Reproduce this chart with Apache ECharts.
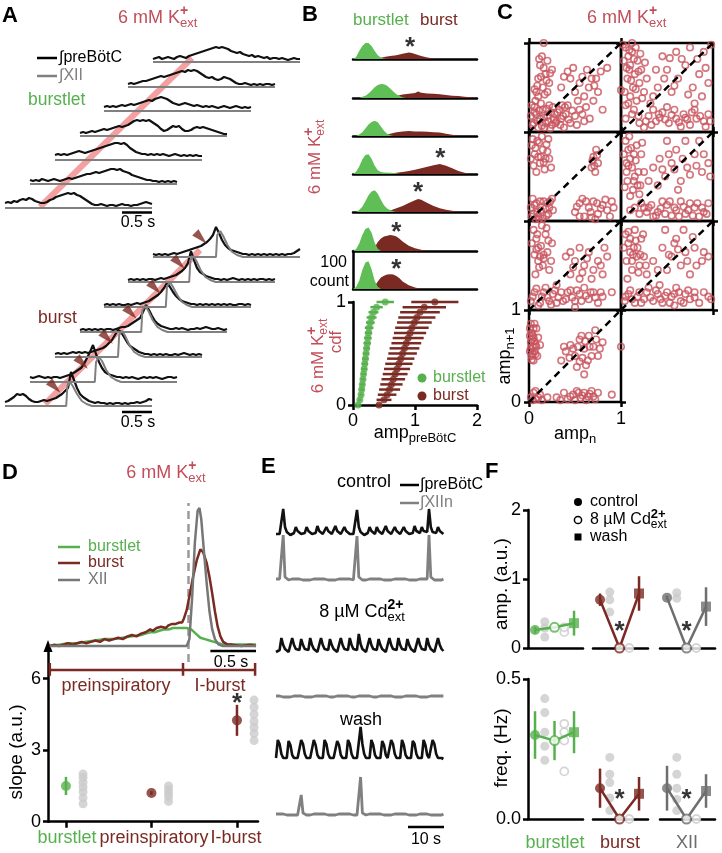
<!DOCTYPE html>
<html><head><meta charset="utf-8">
<script src="https://cdn.jsdelivr.net/npm/echarts@6/dist/echarts.min.js"></script>
<style>html,body{margin:0;padding:0;background:#fff}#c{width:722px;height:853px}</style>
</head><body><div id="c"></div>
<script>
// ================= DATA =================
// ---- Panel A: example traces (a.u., sampled every 0.05 s), bottom -> top
const A_DT = 0.05;
const burstletTraces = [
 [5,6,5,7,6,8,9,8,10,9,7,6,5,5,6,8,9,11,12,13,14,15,14,15,13,12,10,8,6,4,3,3,4,3,2,3,3,2,3,4,3,3,2,3,3,4,5,6,5,4],
 [4,3,4,3,5,4,3,4,5,4,3,4,5,6,5,6,7,8,9,10,10,11,12,11,12,13,14,15,15,14,15,13,12,11,9,8,7,6,5,4,4,3,3,2,3,2,3,2,3,2],
 [5,6,5,6,5,6,7,8,9,8,7,8,9,10,11,12,13,14,15,16,17,17,16,17,15,12,10,8,7,6,6,5,6,5,6,5,6,5,4,5,6,5,4,5,4,5,4,5,4,4],
 [3,4,3,4,5,4,5,6,7,6,7,8,9,10,9,10,11,13,15,16,15,16,15,16,14,12,10,7,5,6,8,10,9,10,7,5,5,6,8,9,8,9,8,7,6,5,4,3,2,2],
 [4,5,4,5,4,5,6,5,6,7,6,7,8,9,10,11,10,12,13,14,13,12,10,8,7,6,7,8,7,6,5,6,5,4,5,4,5,4,3,4,5,4,3,4,5,4,3,4,3,4],
 [3,4,3,4,5,6,6,7,8,9,10,11,10,11,12,13,14,15,16,15,17,16,17,16,14,12,10,9,10,8,7,8,10,9,8,6,4,3,3,4,3,2,3,2,3,2,3,3,2,3],
 [3,4,5,3,4,5,4,3,5,6,5,4,6,7,8,9,10,11,12,13,14,15,14,15,14,13,11,10,9,10,8,7,6,7,5,6,5,4,5,3,4,4,3,4,3,2,3,4,3,3]
];
const burstletXII = [[0,0],[2.45,0]];
const burstTraces = [
 [4,5,7,9,12,11,12,10,7,5,4,4,5,6,5,6,7,8,10,12,15,18,34,26,18,12,9,7,5,4,3,4,3,3,2,3,2,3,3,2,3,2,3,3,4,3,4,5,7,6],
 [5,4,5,6,5,4,5,4,5,5,4,5,6,7,8,10,12,14,18,24,30,37,28,20,14,10,8,7,6,5,5,4,5,4,5,4,3,4,5,4,5,4,5,4,3,4,5,5,4,5],
 [3,4,3,4,3,4,5,4,5,4,5,4,5,6,7,8,9,11,14,17,22,27,25,20,15,11,9,7,5,4,3,3,2,3,2,3,2,3,2,2,3,2,3,4,3,2,3,2,3,2],
 [2,3,2,3,2,3,2,3,2,3,3,2,3,4,5,5,6,8,10,12,14,20,27,22,16,11,8,6,5,4,3,3,4,3,4,3,2,3,3,4,3,4,5,4,3,3,4,3,2,3],
 [2,3,2,3,2,3,2,2,3,2,3,4,3,4,5,6,8,10,12,15,19,24,20,15,11,8,6,5,4,3,3,2,3,2,3,2,3,2,3,2,3,2,3,2,2,3,3,2,3,2],
 [2,3,2,3,2,3,2,3,3,2,3,4,3,4,5,6,7,9,11,14,19,31,22,14,10,8,6,5,4,3,3,2,3,2,3,4,3,2,3,2,3,2,3,2,3,3,2,3,2,3],
 [3,2,3,2,3,2,3,4,3,4,5,6,7,8,9,10,11,13,15,18,22,30,24,17,12,9,7,6,5,4,3,3,2,3,2,3,2,3,2,3,2,3,2,3,2,3,3,4,6,8]
];
const burstXII = [
 [[0,0],[1.02,0],[1.04,20],[1.08,24],[1.13,20],[1.2,12],[1.28,5],[1.36,2],[1.45,0],[2.45,0]],
 [[0,0],[1.08,0],[1.1,20],[1.15,25],[1.2,21],[1.27,12],[1.35,5],[1.43,2],[1.52,0],[2.45,0]],
 [[0,0],[1.05,0],[1.07,22],[1.12,26],[1.17,21],[1.24,12],[1.32,5],[1.4,2],[1.5,0],[2.45,0]],
 [[0,0],[1.02,0],[1.04,22],[1.09,26],[1.14,21],[1.21,12],[1.29,5],[1.37,2],[1.46,0],[2.45,0]],
 [[0,0],[1.03,0],[1.05,21],[1.1,25],[1.15,20],[1.22,12],[1.3,5],[1.38,2],[1.47,0],[2.45,0]],
 [[0,0],[1.02,0],[1.04,22],[1.09,26],[1.14,21],[1.21,12],[1.29,5],[1.37,2],[1.46,0],[2.45,0]],
 [[0,0],[1.05,0],[1.07,22],[1.12,26],[1.17,21],[1.24,12],[1.32,5],[1.4,2],[1.5,0],[2.45,0]]
];
const burstArrowT = [0.83,0.87,0.87,0.85,0.85,0.85,0.8];
const burstArrowAmp = [19,19,19,19,19,19,19];

// ---- Panel B: histograms (amp, count), rows top -> bottom
const histGreenX = [
 [0,0.05,0.1,0.15,0.2,0.25,0.3,0.35,0.4,0.45,0.5,0.55],
 [0.1,0.15,0.2,0.25,0.3,0.35,0.4,0.45,0.5,0.55,0.6,0.65,0.7,0.75,0.8,0.85],
 [0.05,0.1,0.15,0.2,0.25,0.3,0.35,0.4,0.45,0.5,0.55,0.6,0.65],
 [0,0.05,0.1,0.15,0.2,0.25,0.3,0.35,0.4,0.45,0.5,0.6,0.7,0.75],
 [0.05,0.1,0.15,0.2,0.25,0.3,0.35,0.4,0.45,0.5,0.55,0.6,0.65,0.7],
 [0,0.05,0.1,0.15,0.2,0.25,0.3,0.35,0.4,0.45],
 [0,0.05,0.1,0.15,0.2,0.25,0.3,0.35,0.4,0.45]
];
const histGreenN = [
 [0,5,21,34,42,42,34,21,10,4,1,0],
 [0,3,6,12,20,28,34,37,36,32,25,17,10,5,2,0],
 [0,4,10,20,30,37,40,36,25,14,6,2,0],
 [0,6,20,38,50,52,40,22,10,5,4,3,2,0],
 [0,5,14,28,44,54,57,48,32,18,9,5,2,0],
 [0,5,20,42,58,62,48,22,6,0],
 [0,5,22,50,70,73,52,22,6,0]
];
const histBrownX = [
 [0.4,0.45,0.5,0.6,0.7,0.8,0.9,0.95,1.0,1.1,1.2,1.3,1.4],
 [0.6,0.7,0.8,0.9,1.0,1.05,1.1,1.2,1.3,1.4,1.5,1.6,1.7,1.8,1.9,2.0],
 [0.5,0.6,0.7,0.8,0.9,1.0,1.1,1.2,1.3,1.4,1.5,1.6,1.7],
 [0.6,0.7,0.8,0.9,1.0,1.1,1.2,1.3,1.4,1.5,1.6,1.7,1.8,1.9],
 [0.5,0.6,0.7,0.8,0.9,1.0,1.05,1.1,1.2,1.3,1.4,1.5,1.6,1.7],
 [0.3,0.35,0.4,0.45,0.5,0.55,0.6,0.65,0.7,0.75,0.8,0.9,1.0,1.1,1.2],
 [0.3,0.35,0.4,0.45,0.5,0.55,0.6,0.65,0.7,0.75,0.8,0.9,1.0,1.1]
];
const histBrownN = [
 [0,3,5,8,10,14,17,16,13,8,4,1,0],
 [0,5,9,11,13,17,14,12,11,10,8,6,5,3,2,0],
 [0,6,10,12,13,12,12,11,10,9,6,3,0],
 [0,3,5,8,11,15,19,23,26,22,15,8,3,0],
 [0,4,10,16,24,31,34,32,24,16,10,6,3,0],
 [0,10,24,33,38,40,42,41,38,32,25,14,7,3,0],
 [0,8,20,30,35,38,39,38,34,28,20,10,4,0]
];
const histStar = [[0.92,42],null,null,[1.41,52],[1.05,63],[0.7,60],[0.7,63]];
// ---- Panel B: cdf
const cdfQ = [0,0.05,0.1,0.15,0.2,0.25,0.3,0.35,0.4,0.45,0.5,0.55,0.6,0.65,0.7,0.75,0.8,0.85,0.9,0.95,1];
const cdfGreenX = [0.08,0.11,0.13,0.14,0.15,0.16,0.17,0.18,0.19,0.2,0.21,0.22,0.23,0.24,0.25,0.26,0.28,0.3,0.33,0.38,0.52];
const cdfGreenErr = [0.02,0.03,0.03,0.04,0.04,0.04,0.04,0.05,0.05,0.05,0.05,0.05,0.06,0.06,0.06,0.07,0.07,0.08,0.08,0.1,0.14];
const cdfBrownX = [0.42,0.5,0.55,0.59,0.62,0.65,0.68,0.71,0.74,0.77,0.8,0.83,0.86,0.89,0.92,0.95,0.99,1.03,1.08,1.15,1.32];
const cdfBrownErr = [0.05,0.12,0.15,0.17,0.18,0.19,0.2,0.21,0.22,0.22,0.23,0.24,0.24,0.25,0.26,0.27,0.28,0.3,0.32,0.35,0.38];

// ---- Panel C: return maps amp_n vs amp_n+1, 7 preparations (row-major, row 4 has one)
const cPoints = [
 [[0.05,0.1],[0.08,0.2],[0.1,0.05],[0.12,0.15],[0.15,0.25],[0.18,0.1],[0.2,0.18],[0.22,0.3],[0.25,0.08],[0.28,0.2],[0.3,0.12],[0.33,0.25],[0.35,0.15],[0.38,0.05],[0.4,0.2],[0.42,0.3],[0.45,0.1],[0.03,0.3],[0.07,0.35],[0.13,0.32],[0.17,0.05],[0.24,0.22],[0.5,0.18],[0.55,0.25],[0.6,0.12],[0.08,0.45],[0.1,0.6],[0.12,0.75],[0.15,0.5],[0.18,0.65],[0.2,0.8],[0.22,0.55],[0.14,0.85],[0.1,0.4],[0.2,0.45],[0.25,0.7],[0.35,0.5],[0.45,0.6],[0.5,0.45],[0.55,0.55],[0.6,0.4],[0.65,0.5],[0.7,0.35],[0.75,0.45],[0.8,0.25],[0.68,0.6],[0.42,0.68],[0.73,0.6],[0.16,1.0],[1.0,0.47],[0.06,0.22],[0.27,0.14],[0.36,0.3]],
 [[0.05,0.95],[0.08,0.85],[0.1,0.75],[0.12,0.9],[0.15,0.65],[0.18,0.8],[0.2,0.55],[0.22,0.7],[0.25,0.45],[0.07,0.6],[0.13,0.5],[0.28,0.6],[0.1,0.4],[0.17,0.35],[0.05,0.3],[0.05,0.15],[0.12,0.2],[0.2,0.1],[0.3,0.18],[0.38,0.12],[0.45,0.22],[0.52,0.1],[0.6,0.15],[0.68,0.2],[0.75,0.08],[0.82,0.15],[0.9,0.12],[0.95,0.2],[0.35,0.25],[0.58,0.25],[0.8,0.25],[0.25,0.05],[0.65,0.06],[0.4,0.5],[0.5,0.7],[0.55,0.45],[0.62,0.6],[0.7,0.75],[0.78,0.5],[0.85,0.65],[0.9,0.9],[0.45,0.85],[0.6,0.9],[0.75,0.95],[0.95,0.55],[0.35,0.4],[0.88,0.4],[0.98,0.98],[0.09,0.7],[0.16,0.95],[0.42,0.16],[0.72,0.14]],
 [[0.03,0.85],[0.06,0.75],[0.09,0.9],[0.12,0.65],[0.15,0.8],[0.18,0.7],[0.21,0.92],[0.24,0.6],[0.08,0.55],[0.14,0.95],[0.2,0.78],[0.1,0.72],[0.02,0.15],[0.05,0.08],[0.08,0.2],[0.1,0.05],[0.13,0.12],[0.16,0.22],[0.19,0.06],[0.22,0.15],[0.25,0.25],[0.04,0.25],[0.11,0.02],[0.2,0.2],[0.5,0.1],[0.55,0.2],[0.6,0.05],[0.65,0.15],[0.7,0.22],[0.75,0.08],[0.8,0.18],[0.85,0.12],[0.9,0.22],[0.58,0.25],[0.72,0.02],[0.88,0.05],[0.68,0.6],[0.7,0.72],[0.73,0.8],[0.75,0.65],[0.72,0.55]],
 [[0.05,0.9],[0.08,0.8],[0.1,0.7],[0.12,0.6],[0.15,0.5],[0.18,0.4],[0.2,0.3],[0.07,0.45],[0.13,0.35],[0.22,0.75],[0.25,0.55],[0.09,0.95],[0.17,0.85],[0.1,0.12],[0.2,0.08],[0.3,0.15],[0.4,0.1],[0.5,0.18],[0.6,0.12],[0.7,0.08],[0.8,0.15],[0.9,0.1],[0.95,0.2],[0.35,0.05],[0.55,0.06],[0.75,0.2],[0.45,0.22],[0.65,0.22],[0.85,0.05],[0.35,0.6],[0.42,0.7],[0.48,0.5],[0.55,0.65],[0.6,0.8],[0.65,0.45],[0.72,0.6],[0.8,0.75],[0.88,0.55],[0.95,0.65],[0.5,0.9],[0.7,0.9],[0.4,0.4],[0.62,0.35],[0.85,0.9],[0.06,0.65],[0.14,0.75],[0.25,0.15]],
 [[0.05,0.9],[0.08,0.8],[0.1,0.7],[0.12,0.6],[0.15,0.5],[0.18,0.85],[0.2,0.65],[0.22,0.45],[0.25,0.75],[0.07,0.4],[0.14,0.95],[0.1,0.55],[0.02,0.1],[0.06,0.2],[0.1,0.05],[0.14,0.15],[0.18,0.25],[0.22,0.1],[0.26,0.18],[0.3,0.08],[0.35,0.2],[0.4,0.12],[0.45,0.22],[0.5,0.1],[0.55,0.18],[0.6,0.25],[0.65,0.12],[0.7,0.2],[0.75,0.08],[0.8,0.15],[0.3,0.28],[0.5,0.03],[0.45,0.4],[0.5,0.55],[0.55,0.35],[0.6,0.5],[0.65,0.65],[0.7,0.45],[0.75,0.55],[0.8,0.4],[0.85,0.6],[0.55,0.7],[0.4,0.6],[0.16,0.62],[0.9,0.2]],
 [[0.05,0.85],[0.08,0.75],[0.1,0.65],[0.12,0.55],[0.15,0.9],[0.18,0.7],[0.2,0.5],[0.22,0.8],[0.25,0.6],[0.28,0.4],[0.07,0.35],[0.12,0.45],[0.17,0.6],[0.05,0.15],[0.1,0.22],[0.15,0.08],[0.2,0.2],[0.25,0.12],[0.3,0.25],[0.35,0.1],[0.4,0.18],[0.45,0.08],[0.5,0.2],[0.55,0.15],[0.6,0.25],[0.65,0.1],[0.7,0.18],[0.75,0.12],[0.85,0.08],[0.95,0.15],[0.42,0.28],[0.58,0.05],[0.35,0.55],[0.45,0.7],[0.5,0.45],[0.55,0.6],[0.6,0.8],[0.65,0.5],[0.7,0.65],[0.75,0.4],[0.8,0.7],[0.88,0.55],[0.95,0.6],[0.48,0.9],[0.68,0.9],[0.14,0.7],[0.8,0.2]],
 [[0.01,0.8],[0.03,0.75],[0.05,0.7],[0.02,0.65],[0.04,0.6],[0.06,0.55],[0.03,0.5],[0.05,0.45],[0.08,0.8],[0.07,0.62],[0.02,0.85],[0.1,0.7],[0.04,0.52],[0.09,0.5],[0.35,0.45],[0.4,0.55],[0.45,0.62],[0.5,0.5],[0.55,0.68],[0.6,0.58],[0.65,0.72],[0.7,0.6],[0.75,0.5],[0.8,0.65],[0.62,0.4],[0.52,0.38],[0.72,0.78],[0.58,0.48],[0.02,0.05],[0.05,0.1],[0.08,0.03],[0.12,0.08],[0.3,0.05],[0.38,0.1],[0.42,0.03],[0.48,0.08],[0.52,0.12],[0.56,0.04],[0.6,0.1],[0.64,0.06],[0.68,0.12],[0.72,0.03],[0.9,0.08],[1.0,0.6]]
];
const cPointsMore = [
 [[0.02,0.18],[0.04,0.08],[0.06,0.28],[0.09,0.12],[0.11,0.24],[0.14,0.07],[0.16,0.16],[0.19,0.26],[0.21,0.12],[0.23,0.04],[0.26,0.28],[0.29,0.1],[0.31,0.22],[0.34,0.08],[0.37,0.18],[0.39,0.28],[0.43,0.14],[0.47,0.24],[0.52,0.08],[0.58,0.2],[0.62,0.28],[0.66,0.15],[0.09,0.52],[0.13,0.62],[0.16,0.72],[0.19,0.58],[0.11,0.82],[0.23,0.66],[0.06,0.48],[0.17,0.42],[0.38,0.62],[0.48,0.72],[0.58,0.62],[0.63,0.7],[0.78,0.68],[0.71,0.52],[0.53,0.35],[0.85,0.72]],
 [[0.03,0.8],[0.06,0.72],[0.09,0.92],[0.11,0.58],[0.14,0.82],[0.16,0.48],[0.19,0.68],[0.21,0.88],[0.23,0.38],[0.26,0.78],[0.04,0.45],[0.08,0.32],[0.14,0.25],[0.19,0.18],[0.27,0.12],[0.33,0.08],[0.41,0.2],[0.48,0.14],[0.55,0.19],[0.63,0.11],[0.7,0.16],[0.77,0.22],[0.86,0.18],[0.92,0.06],[0.97,0.12],[0.5,0.28],[0.32,0.32],[0.47,0.6],[0.58,0.52],[0.66,0.82],[0.73,0.42],[0.83,0.82],[0.92,0.72],[0.53,0.83],[0.8,0.32],[0.38,0.7],[0.02,0.98],[0.12,1.0]],
 [[0.02,0.7],[0.05,0.62],[0.07,0.82],[0.11,0.88],[0.13,0.72],[0.16,0.66],[0.19,0.86],[0.22,0.7],[0.04,0.92],[0.17,0.58],[0.03,0.05],[0.06,0.18],[0.09,0.1],[0.12,0.22],[0.15,0.03],[0.18,0.14],[0.21,0.08],[0.23,0.22],[0.07,0.02],[0.26,0.12],[0.52,0.16],[0.62,0.22],[0.68,0.04],[0.78,0.14],[0.83,0.24],[0.92,0.15],[0.55,0.05],[0.67,0.1],[0.74,0.2],[0.69,0.68],[0.74,0.74],[0.71,0.62]],
 [[0.03,0.75],[0.06,0.55],[0.08,0.62],[0.11,0.82],[0.14,0.45],[0.16,0.68],[0.19,0.55],[0.21,0.4],[0.23,0.88],[0.04,0.38],[0.1,0.28],[0.15,0.15],[0.22,0.2],[0.28,0.1],[0.33,0.18],[0.38,0.06],[0.43,0.14],[0.48,0.08],[0.53,0.22],[0.58,0.15],[0.63,0.05],[0.68,0.16],[0.73,0.12],[0.78,0.06],[0.83,0.2],[0.88,0.15],[0.93,0.08],[0.3,0.45],[0.45,0.58],[0.52,0.75],[0.58,0.58],[0.67,0.7],[0.75,0.52],[0.82,0.62],[0.9,0.75],[0.97,0.5]],
 [[0.03,0.75],[0.06,0.62],[0.09,0.85],[0.11,0.48],[0.13,0.72],[0.16,0.58],[0.19,0.92],[0.21,0.78],[0.24,0.55],[0.08,0.68],[0.04,0.15],[0.08,0.24],[0.12,0.08],[0.16,0.2],[0.2,0.14],[0.24,0.06],[0.28,0.22],[0.32,0.14],[0.37,0.1],[0.42,0.2],[0.47,0.14],[0.52,0.22],[0.57,0.1],[0.62,0.16],[0.67,0.2],[0.72,0.14],[0.78,0.2],[0.48,0.48],[0.58,0.42],[0.63,0.58],[0.68,0.35],[0.78,0.5],[0.82,0.7],[0.45,0.65]],
 [[0.03,0.7],[0.06,0.55],[0.08,0.88],[0.1,0.8],[0.13,0.62],[0.16,0.78],[0.19,0.42],[0.21,0.62],[0.24,0.85],[0.27,0.5],[0.04,0.1],[0.08,0.18],[0.12,0.12],[0.18,0.15],[0.22,0.08],[0.28,0.2],[0.32,0.14],[0.38,0.22],[0.43,0.12],[0.48,0.16],[0.53,0.08],[0.58,0.18],[0.63,0.2],[0.68,0.08],[0.73,0.22],[0.8,0.14],[0.9,0.2],[0.98,0.12],[0.4,0.45],[0.52,0.62],[0.62,0.68],[0.72,0.55],[0.82,0.5],[0.9,0.65],[0.58,0.75],[0.78,0.82]],
 [[0.01,0.72],[0.03,0.68],[0.02,0.58],[0.05,0.8],[0.06,0.66],[0.04,0.72],[0.07,0.52],[0.03,0.46],[0.08,0.6],[0.01,0.55],[0.06,0.85],[0.12,0.62],[0.38,0.6],[0.44,0.48],[0.48,0.58],[0.53,0.6],[0.57,0.72],[0.61,0.66],[0.66,0.6],[0.68,0.5],[0.73,0.68],[0.77,0.58],[0.64,0.45],[0.55,0.44],[0.6,0.3],[0.04,0.02],[0.07,0.12],[0.1,0.05],[0.14,0.02],[0.34,0.02],[0.45,0.06],[0.5,0.02],[0.54,0.1],[0.58,0.07],[0.62,0.02],[0.66,0.09],[0.7,0.06],[0.75,0.1],[0.2,0.05]]
];

// ---- Panel D: averaged traces (normalised), time in s
const dBurstlet = [[0,0.0],[0.1,0.01],[0.2,0.02],[0.3,0.02],[0.4,0.03],[0.5,0.04],[0.6,0.05],[0.7,0.05],[0.8,0.06],[0.9,0.07],[1.0,0.08],[1.05,0.09],[1.1,0.1],[1.15,0.1],[1.2,0.11],[1.25,0.12],[1.3,0.12],[1.35,0.13],[1.4,0.13],[1.45,0.13],[1.5,0.13],[1.55,0.12],[1.6,0.09],[1.65,0.06],[1.7,0.05],[1.75,0.04],[1.8,0.03],[1.85,0.02],[1.9,0.01],[2.0,0.01],[2.1,0.01],[2.2,0.01],[2.26,0.01]];
const dBurst = [[0,0.0],[0.05,0.01],[0.1,0.0],[0.15,0.01],[0.2,0.02],[0.25,0.01],[0.3,0.02],[0.35,0.03],[0.4,0.02],[0.45,0.03],[0.5,0.04],[0.55,0.03],[0.6,0.05],[0.65,0.04],[0.7,0.05],[0.75,0.06],[0.8,0.05],[0.85,0.07],[0.9,0.08],[0.95,0.07],[1.0,0.09],[1.05,0.1],[1.1,0.12],[1.13,0.11],[1.17,0.13],[1.22,0.14],[1.27,0.13],[1.3,0.15],[1.34,0.16],[1.38,0.16],[1.42,0.17],[1.45,0.17],[1.47,0.2],[1.5,0.26],[1.53,0.36],[1.57,0.5],[1.61,0.62],[1.65,0.7],[1.68,0.68],[1.72,0.6],[1.75,0.5],[1.78,0.38],[1.81,0.25],[1.84,0.14],[1.87,0.07],[1.9,0.03],[1.95,0.01],[2.0,0.01],[2.1,0.0],[2.2,0.01],[2.26,0.0]];
const dXII = [[0,0],[1.5,0],[1.53,0.05],[1.56,0.35],[1.59,0.75],[1.62,0.98],[1.64,1.0],[1.66,0.92],[1.69,0.68],[1.72,0.45],[1.75,0.25],[1.78,0.12],[1.81,0.05],[1.85,0.01],[1.9,0],[2.26,0]];
const dOnsetT = 1.52;
const dPhaseBounds = [0, 1.46, 2.25];
// ---- Panel D: slopes
const slopeCats = ['burstlet','preinspiratory','I-burst'];
const slopeMean = [1.5,1.2,4.25];
const slopeErr = [0.38,0.08,0.65];
const slopeInd = [[0.75,1.0,1.25,1.45,1.65,1.85,2.0],[0.85,1.05,1.2,1.35,1.5],[3.4,3.7,3.95,4.2,4.5,4.8,5.1]];

// ---- Panel E: long recordings (a.u.), sampled every 0.5 s
const E_DT = 0.5;
const eControlPre = [1,0,1,2,26,8,3,1,0,1,2,8,4,2,1,0,2,8,4,2,1,0,2,9,4,2,1,2,8,4,2,1,2,9,4,2,1,2,8,4,2,1,0,1,3,25,8,3,1,0,1,2,8,4,2,1,8,4,2,1,2,9,4,2,1,2,8,4,2,1,2,8,4,2,1,0,2,9,4,2,2,8,4,2,3,26,8,3,1,2,8,4,2,1];
const eControlXII = [1,0,1,0,45,3,1,0,1,1,0,1,0,1,1,0,1,0,1,0,1,1,0,1,0,1,0,1,1,0,1,0,1,0,1,1,0,1,0,1,0,1,1,0,1,44,3,1,0,1,0,1,1,0,1,0,1,0,1,1,0,1,0,1,0,1,1,0,1,0,1,0,1,1,0,1,0,1,0,1,1,0,1,0,1,45,3,1,0,1,0,1,0,1];
const eCdPre = [1,0,3,15,8,4,2,1,3,15,8,4,2,3,14,8,4,2,3,15,8,4,2,1,3,15,8,4,2,3,14,8,4,2,1,3,15,8,4,2,3,15,8,4,2,3,19,9,4,2,1,3,15,8,4,2,3,14,8,4,2,1,3,15,8,4,2,3,15,8,4,2,3,14,8,4,2,1,3,15,8,4,2,3,15,8,4,2,1,3,15,8,4,2];
const eCdXII = [1,0,1,1,0,1,0,1,0,1,1,0,1,0,1,1,0,1,0,1,0,1,1,0,1,0,1,0,1,1,0,1,0,1,1,0,1,0,1,0,1,1,0,1,0,1,1,0,1,0,1,0,1,1,0,1,0,1,1,0,1,0,1,0,1,1,0,1,0,1,0,1,1,0,1,0,1,0,1,1,0,1,0,1,0,1,1,0,1,0,1,0,1,1];
const eWashPre = [2,20,16,6,2,1,2,19,15,5,2,1,2,1,20,16,6,2,1,2,1,20,15,5,2,1,2,20,16,6,2,1,2,1,19,15,5,2,1,2,20,16,6,2,1,2,3,33,16,6,2,1,2,20,15,5,2,1,2,19,15,5,2,2,20,16,6,2,1,2,20,15,5,2,1,2,19,16,6,2,1,2,20,15,5,2,2,20,16,6,2,1,2,1];
const eWashXII = [1,0,1,0,1,1,0,1,0,1,0,1,0,1,20,2,1,0,1,0,1,1,0,1,0,1,0,1,1,0,1,0,1,0,1,1,0,1,0,1,0,1,1,0,1,0,1,38,2,1,0,1,1,0,1,0,1,0,1,1,0,1,0,1,0,1,1,0,1,0,1,0,1,1,0,1,0,1,0,1,1,0,1,0,1,1,0,1,0,1,0,1,0,1];

// ---- Panel F: group stats [control, Cd, wash]
const fGroups = ['burstlet','burst','XII'];
const fAmpMean = [[0.26,0.3,0.36],[0.7,0,0.79],[0.73,0,0.6]];
const fAmpErr  = [[0.05,0.02,0.18],[0.09,0,0.25],[0.03,0,0.28]];
const fAmpInd  = [
 [[0.16,0.29,0.38],[0.23,0.3],[0.14,0.26,0.38,0.51,0.62]],
 [[0.52,0.7,0.81],[0],[0.4,0.55,0.65,0.74,0.94]],
 [[0.72,0.8],[0],[0.23,0.51,0.65,0.8,1.01]]
];
const fFreqMean = [[0.3,0.28,0.31],[0.11,0,0.09],[0.11,0,0.1]];
const fFreqErr  = [[0.085,0.07,0.075],[0.07,0,0.06],[0.08,0,0.06]];
const fFreqInd  = [
 [[0.21,0.26,0.31,0.38,0.43],[0.17,0.28,0.31,0.34],[0.22,0.26,0.3,0.34,0.38,0.41]],
 [[0.03,0.075,0.13,0.16,0.22],[0],[0.02,0.05,0.09,0.12,0.16,0.19]],
 [[0.03,0.07,0.11,0.16,0.22],[0],[0.02,0.05,0.08,0.11,0.14,0.19]]
];

// ================= BUILD =================
const FONT = '"Liberation Sans", Arial, Helvetica, sans-serif';
const GREEN='#57b04e', BROWN='#7a2a22', GRAY='#6e6e6e', LGRAY='#cbcbcb', RED='#c24e5a', PINK='#f5a0a0', CRED='#c8545e';
const grid=[], xAxis=[], yAxis=[], series=[], graphic=[];
const NOAX = {type:'value', show:false, splitLine:{show:false}};
function addGrid(box, xa, ya){
  const gi = grid.length;
  grid.push(Object.assign({show:false, containLabel:false, outerBoundsMode:'none'}, box));
  const xi = xAxis.length; xAxis.push(Object.assign({}, NOAX, {gridIndex:gi}, xa));
  const yi = yAxis.length; yAxis.push(Object.assign({}, NOAX, {gridIndex:gi}, ya));
  return {gi, xi, yi};
}
function blackAxis(extra){
  return Object.assign({type:'value', show:true, splitLine:{show:false},
    axisLine:{show:true, onZero:false, lineStyle:{color:'#000', width:2.5}},
    axisTick:{show:true, length:5, lineStyle:{color:'#000', width:2.5}},
    axisLabel:{show:true, color:'#000', fontSize:18, fontFamily:FONT, margin:7}}, extra);
}
function line(ax, data, color, width, extra){
  series.push(Object.assign({type:'line', xAxisIndex:ax.xi, yAxisIndex:ax.yi, data, symbol:'none', showSymbol:false,
    lineStyle:{color, width}, itemStyle:{color}, silent:true, animation:false, z:3}, extra||{}));
}
function scat(ax, data, o){
  series.push(Object.assign({type:'scatter', xAxisIndex:ax.xi, yAxisIndex:ax.yi, data, silent:true, animation:false, z:4}, o));
}
function errBars(ax, data, color, horiz, width){ // data [x,y,err]
  series.push({type:'custom', xAxisIndex:ax.xi, yAxisIndex:ax.yi, data, silent:true, animation:false, z:4,
    encode:{x:0, y:1},
    renderItem:(p, api)=>{
      const x=api.value(0), y=api.value(1), e=api.value(2);
      const a = horiz? api.coord([x-e,y]) : api.coord([x,y-e]);
      const b = horiz? api.coord([x+e,y]) : api.coord([x,y+e]);
      return {type:'line', shape:{x1:a[0],y1:a[1],x2:b[0],y2:b[1]}, style:{stroke:color, lineWidth:width||2.5}};
    }});
}
function star(ax, pts, size){
  scat(ax, pts, {symbolSize:0, z:6, label:{show:true, formatter:'*', color:'#000', fontSize:size||26, fontWeight:'bold', fontFamily:FONT, position:'inside', offset:[0,5]}});
}
const mctx = document.createElement('canvas').getContext('2d');
function tw(s, size, weight){ mctx.font=(weight||'normal')+' '+size+'px '+FONT; return mctx.measureText(s).width; }
function txt(x, y, s, o){
  o=o||{};
  graphic.push({type:'text', x, y, z:50, rotation:o.rot||0,
    style:{text:s, fill:o.color||'#000', font:(o.weight||'normal')+' '+(o.size||18)+'px '+FONT,
      textAlign:o.align||'left', textVerticalAlign:'middle'}});
}
function stext(x, y, parts, o){
  o=o||{}; const size=o.size||18, small=Math.round(size*0.72);
  let w=0; const items=[];
  parts.forEach(p=>{
    if(typeof p==='string'){ items.push({t:p,x:w,dy:0,s:size,wt:o.weight}); w+=tw(p,size,o.weight); }
    else { let ww=0;
      if(p.sup){ items.push({t:p.sup,x:w,dy:-size*0.36,s:Math.round(size*0.8),wt:'bold'}); ww=Math.max(ww,tw(p.sup,Math.round(size*0.8),'bold')); }
      if(p.sub){ items.push({t:p.sub,x:w,dy:size*0.32,s:small}); ww=Math.max(ww,tw(p.sub,small)); }
      w+=ww; }
  });
  const off = o.align==='center'? -w/2 : (o.align==='right'? -w : 0);
  graphic.push({type:'group', x, y, rotation:o.rot||0, z:50,
    children: items.map(it=>({type:'text', x:it.x+off, y:it.dy, z:50,
      style:{text:it.t, fill:o.color||'#000', font:(it.wt||'normal')+' '+it.s+'px '+FONT, textAlign:'left', textVerticalAlign:'middle'}}))});
}
function gline(x1,y1,x2,y2,color,w,z){ graphic.push({type:'line', z:z==null?50:z, shape:{x1,y1,x2,y2}, style:{stroke:color, lineWidth:w||2.5}}); }
const KEXT = ['6 mM K',{sup:'+',sub:'ext'}];
const idx = (arr, dt)=>arr.map((v,i)=>[+(i*dt).toFixed(3), v]);

// ---------- Panel A ----------
const aStartX = [5,30,55,80,104,128,153];
const aBaseBurstlet = [208,184,160,136,111,87,62];
const aBaseBurst = [406,382,357,332,307,282,257];
gline(40,207,192,58,PINK,6,0);
gline(45,404,200,250,PINK,6,0);
burstletTraces.forEach((tr,k)=>{
  const ax = addGrid({left:aStartX[k], top:aBaseBurstlet[k]-40, width:147, height:50},{min:0,max:2.45},{min:-10,max:40});
  line(ax, burstletXII, '#808080', 2);
  line(ax, idx(tr, A_DT), '#111', 2.2);
  if(k===0) line(ax, [[1.95,-4.5],[2.45,-4.5]], '#000', 2.5);
});
burstTraces.forEach((tr,k)=>{
  const ax = addGrid({left:aStartX[k], top:aBaseBurst[k]-40, width:147, height:50},{min:0,max:2.45},{min:-10,max:40});
  line(ax, idx(tr, A_DT), '#111', 2.2);
  line(ax, burstXII[k], '#808080', 2);
  scat(ax, [[burstArrowT[k], burstArrowAmp[k]]], {symbol:'triangle', symbolSize:[9,16], symbolRotate:-135, itemStyle:{color:BROWN}, z:5});
  if(k===0) line(ax, [[1.95,-6],[2.45,-6]], '#000', 2.5);
});
txt(2,16,'A',{size:22,weight:'bold'});
stext(118,18,KEXT,{color:RED,size:18});
gline(37,58,57,58,'#000',2.5); txt(59,58,'∫preBötC',{size:16});
gline(37,76,57,76,'#808080',2.5); txt(59,76,'∫XII',{size:16,color:'#808080'});
txt(28,100,'burstlet',{size:17.5,color:GREEN});
txt(138,223,'0.5 s',{size:16,align:'center'});
txt(38,318,'burst',{size:17.5,color:BROWN});
txt(138,423,'0.5 s',{size:16,align:'center'});

// ---------- Panel B ----------
const bRowBase = [59,98,136,174,212,251,289];
bRowBase.forEach((base,k)=>{
  const ax = addGrid({left:353, top:base-38, width:124, height:38},
    {show:true, min:0, max:2, axisLine:{show:true, lineStyle:{color:'#000',width:2.5}}, axisTick:{show:false}, axisLabel:{show:false}, splitLine:{show:false}},
    k===6 ? {show:true, min:0, max:100, axisLine:{show:true, lineStyle:{color:'#000',width:2.5}}, axisTick:{show:false}, axisLabel:{show:false}, splitLine:{show:false}} : {min:0, max:100});
  line(ax, histBrownX[k].map((x,i)=>[x,histBrownN[k][i]]), BROWN, 0, {areaStyle:{color:BROWN, opacity:1}, lineStyle:{width:0}});
  line(ax, histGreenX[k].map((x,i)=>[x,histGreenN[k][i]]), GREEN, 0, {areaStyle:{color:'#5fbf56', opacity:1}, lineStyle:{width:0}});
  if(histStar[k]) star(ax, [histStar[k]], 26);
});
{
  const ax = addGrid({left:353, top:302, width:124, height:103},
    blackAxis({min:0, max:2, interval:1}), blackAxis({min:0, max:1, interval:1}));
  errBars(ax, cdfGreenX.map((x,i)=>[x,cdfQ[i],cdfGreenErr[i]]), GREEN, true, 2.5);
  errBars(ax, cdfBrownX.map((x,i)=>[x,cdfQ[i],cdfBrownErr[i]]), BROWN, true, 2.5);
  scat(ax, cdfGreenX.map((x,i)=>[x,cdfQ[i]]), {symbolSize:7, itemStyle:{color:GREEN}});
  scat(ax, cdfBrownX.map((x,i)=>[x,cdfQ[i]]), {symbolSize:7, itemStyle:{color:BROWN}});
}
txt(302,15,'B',{size:22,weight:'bold'});
txt(353,20,'burstlet',{size:17,color:GREEN});
txt(420,20,'burst',{size:17,color:BROWN});
stext(315,157,KEXT,{color:RED,size:17,rot:Math.PI/2,align:'center'});
txt(347,263,'100',{size:16,align:'right'});
txt(349,282,'count',{size:16,align:'right'});
stext(318,356,KEXT,{color:RED,size:17,rot:Math.PI/2,align:'center'});
txt(336,342,'cdf',{size:17,color:RED,rot:Math.PI/2,align:'center'});
graphic.push({type:'circle', z:50, shape:{cx:422,cy:378,r:4.5}, style:{fill:GREEN}});
txt(433,378,'burstlet',{size:16,color:GREEN});
graphic.push({type:'circle', z:50, shape:{cx:422,cy:396,r:4.5}, style:{fill:BROWN}});
txt(433,396,'burst',{size:16,color:BROWN});
stext(415,433,['amp',{sub:'preBötC'}],{size:18,align:'center'});

// ---------- Panel C ----------
const cCols = [529,621], cRows = [43,132,221,310], cH = [89,89,89,92];
let ci = 0;
for(let r=0;r<4;r++){
  for(let c=0;c<2;c++){
    if(r===3 && c===1) continue;
    const isBL = (r===3 && c===0);
    const ax = addGrid({left:cCols[c], top:cRows[r], width:92, height:cH[r], show:true, borderColor:'#000', borderWidth:2.5, backgroundColor:'rgba(0,0,0,0)'},
      blackAxis({min:0,max:1,interval:1, axisLine:{show:false}, axisLabel:{show:isBL, color:'#000', fontSize:18, fontFamily:FONT, margin:8}}),
      blackAxis({min:0,max:1,interval:1, axisLine:{show:false}, axisLabel:{show:isBL, color:'#000', fontSize:18, fontFamily:FONT, margin:8}}));
    if(r===0) xAxis.push(blackAxis({gridIndex:ax.gi, position:'top', min:0,max:1,interval:1, axisLine:{show:false}, axisLabel:{show:false}}));
    if(c===1 || isBL) yAxis.push(blackAxis({gridIndex:ax.gi, position:'right', min:0,max:1,interval:1, axisLine:{show:false}, axisLabel:{show:false}}));
    scat(ax, cPoints[ci].concat(cPointsMore[ci]), {symbol:'circle', symbolSize:6.5, itemStyle:{color:'rgba(255,255,255,0)', borderColor:CRED, borderWidth:1.6}});
    line(ax, [[0,0],[1,1]], '#000', 2.5, {lineStyle:{color:'#000', width:2.5, type:[7,5]}, z:5});
    ci++;
  }
}
txt(497,13,'C',{size:22,weight:'bold'});
stext(587,18,KEXT,{color:RED,size:18});
stext(505,356,['amp',{sub:'n+1'}],{size:18,rot:Math.PI/2,align:'center'});
stext(575,434,['amp',{sub:'n'}],{size:18,align:'center'});

// ---------- Panel D ----------
{
  const ax = addGrid({left:48, top:500, width:208, height:180},{min:-0.02,max:2.26},{min:-0.2464,max:1.058});
  line(ax, dBurstlet, GREEN, 2.5);
  line(ax, dBurst, BROWN, 2.5);
  line(ax, dXII, '#777', 2.5);
  line(ax, [[dOnsetT,-0.116],[dOnsetT,1.036]], '#9a9a9a', 2.5, {lineStyle:{color:'#9a9a9a', width:2.5, type:[8,5]}, z:2});
  line(ax, [[1.76,-0.036],[2.26,-0.036]], '#000', 2.5);
  line(ax, [[dPhaseBounds[0],-0.174],[dPhaseBounds[2],-0.174]], BROWN, 2.5);
  dPhaseBounds.forEach(t=> line(ax, [[t,-0.123],[t,-0.215]], BROWN, 2.5));
}
{
  const ax = addGrid({left:48, top:650, width:210, height:171.7},
    blackAxis({min:-0.21, max:2.246, axisTick:{show:true, length:6, customValues:[0,1,2], lineStyle:{color:'#000',width:2.5}}, axisLabel:{show:false, customValues:[0,1,2]}}),
    blackAxis({min:0, max:7.2, axisLine:{show:true, onZero:false, symbol:['none','triangle'], symbolSize:[9,12], symbolOffset:[0,4], lineStyle:{color:'#000',width:2.5}},
      axisTick:{show:true, length:5, customValues:[0,3,6], lineStyle:{color:'#000',width:2.5}},
      axisLabel:{show:true, customValues:[0,3,6], color:'#000', fontSize:18, fontFamily:FONT, margin:7}}));
  const colors=[GREEN,BROWN,BROWN];
  slopeInd.forEach((arr,k)=> scat(ax, arr.map(v=>[k+0.2,v]), {symbolSize:9, itemStyle:{color:LGRAY}, z:3}));
  slopeMean.forEach((m,k)=>{
    errBars(ax, [[k,m,slopeErr[k]]], colors[k], false, 2.5);
    scat(ax, [[k,m]], {symbolSize:10, itemStyle:{color:colors[k]}, z:5});
  });
  star(ax, [[2,5.15]], 26);
}
txt(2,473,'D',{size:22,weight:'bold'});
stext(166,473,KEXT,{color:RED,size:18,align:'center'});
gline(58,547,80,547,GREEN,2.5); txt(88,547,'burstlet',{size:16,color:GREEN});
gline(58,563,80,563,BROWN,2.5); txt(88,563,'burst',{size:16,color:BROWN});
gline(58,580,80,580,'#777',2.5); txt(88,580,'XII',{size:16,color:'#777'});
txt(231,663,'0.5 s',{size:16,align:'center'});
txt(116,686,'preinspiratory',{size:18,color:BROWN,align:'center'});
txt(220,686,'I-burst',{size:18,color:BROWN,align:'center'});
txt(17,752,'slope (a.u.)',{size:19,rot:Math.PI/2,align:'center'});
txt(67,838,'burstlet',{size:18,color:GREEN,align:'center'});
txt(154,838,'preinspiratory',{size:18,color:BROWN,align:'center'});
txt(236,838,'I-burst',{size:18,color:BROWN,align:'center'});

// ---------- Panel E ----------
const eTraces = [[eControlPre,535,'#111',2.6],[eControlXII,580,'#808080',2.8],[eCdPre,653,'#111',2.6],[eCdXII,697,'#808080',2.8],[eWashPre,760,'#111',2.6],[eWashXII,815,'#808080',2.8]];
eTraces.forEach((e,k)=>{
  const ax = addGrid({left:276, top:e[1]-50, width:168, height:75},{min:0,max:46.67},{min:-25,max:50});
  line(ax, idx(e[0], E_DT), e[2], e[3]);
  if(k===5) line(ax, [[36.67,-12],[46.67,-12]], '#000', 2.5);
});
txt(261,467,'E',{size:22,weight:'bold'});
txt(364,482,'control',{size:18,align:'center'});
gline(400,485,419,485,'#000',2.5); txt(420,485,'∫preBötC',{size:16});
gline(400,503,419,503,'#808080',2.5); txt(420,503,'∫XIIn',{size:16,color:'#808080'});
stext(362,612,['8 µM Cd',{sup:'2+',sub:'ext'}],{size:18,align:'center'});
txt(361,720,'wash',{size:18,align:'center'});
txt(426,840,'10 s',{size:16,align:'center'});

// ---------- Panel F ----------
const fLeft = [528,593,660];
const fColors = [GREEN,BROWN,'#6e6e6e'];
function fPanel(top, height, ymax, interval, means, errs, inds, fmt, starY){
  fLeft.forEach((left,g)=>{
    const ya = g===0 ? blackAxis({min:0,max:ymax,interval, axisLine:{show:true,onZero:false,lineStyle:{color:'#000',width:2.5}},
        axisLabel:{show:true,color:'#000',fontSize:18,fontFamily:FONT,margin:7, formatter:fmt}})
      : {min:0,max:ymax};
    const ax = addGrid({left, top, width:55, height},
      {show:true, min:-0.36, max:2.46, axisLine:{show:true, onZero:false, lineStyle:{color:'#000',width:2.5}}, axisTick:{show:false}, axisLabel:{show:false}, splitLine:{show:false}}, ya);
    const col = fColors[g];
    scat(ax, inds[g][0].map(v=>[0.5,v]), {symbol:'circle', symbolSize:9, itemStyle:{color:LGRAY}, z:3});
    scat(ax, inds[g][1].map(v=>[1.5,v]), {symbol:'circle', symbolSize:8, itemStyle:{color:'#fff', borderColor:LGRAY, borderWidth:1.8}, z:3});
    scat(ax, inds[g][2].map(v=>[2.5,v]), {symbol:'rect', symbolSize:10, itemStyle:{color:LGRAY}, z:3});
    line(ax, means[g].map((m,i)=>[i,m]), col, 2.5, {z:4});
    errBars(ax, means[g].map((m,i)=>[i,m,errs[g][i]]).filter(d=>d[2]>0), col, false, 2.5);
    scat(ax, [[0,means[g][0]]], {symbol:'circle', symbolSize:10, itemStyle:{color:col}, z:6});
    scat(ax, [[1,means[g][1]]], {symbol:'circle', symbolSize:9, itemStyle:{color:'#fff', borderColor:col, borderWidth:2}, z:6});
    scat(ax, [[2,means[g][2]]], {symbol:'rect', symbolSize:10, itemStyle:{color:col}, z:6});
    if(g>0) star(ax, [[1, starY]], 26);
  });
}
fPanel(510, 138, 2, 1, fAmpMean, fAmpErr, fAmpInd, v=>String(v), 0.3);
fPanel(679, 140, 0.5, 0.5, fFreqMean, fFreqErr, fFreqInd, v=>v.toFixed(1), 0.085);
txt(485,472,'F',{size:22,weight:'bold'});
graphic.push({type:'circle', z:50, shape:{cx:578,cy:502,r:4}, style:{fill:'#000'}});
txt(590,502,'control',{size:16});
graphic.push({type:'circle', z:50, shape:{cx:578,cy:520,r:3.6}, style:{fill:'#fff', stroke:'#000', lineWidth:1.5}});
stext(590,520,['8 µM Cd',{sup:'2+',sub:'ext'}],{size:16});
graphic.push({type:'rect', z:50, shape:{x:574.5,y:533.5,width:7,height:7}, style:{fill:'#000'}});
txt(590,537,'wash',{size:16});
txt(502,584,'amp. (a.u.)',{size:19,rot:Math.PI/2,align:'center'});
txt(502,748,'freq. (Hz)',{size:19,rot:Math.PI/2,align:'center'});
txt(555,843,'burstlet',{size:18,color:GREEN,align:'center'});
txt(620,843,'burst',{size:18,color:BROWN,align:'center'});
txt(687,843,'XII',{size:18,color:'#6e6e6e',align:'center'});

const chart = echarts.init(document.getElementById('c'), null, {renderer:'canvas', width:722, height:853});
chart.setOption({animation:false, backgroundColor:'#fff', grid, xAxis, yAxis, series, graphic:{elements:graphic}});
</script></body></html>
